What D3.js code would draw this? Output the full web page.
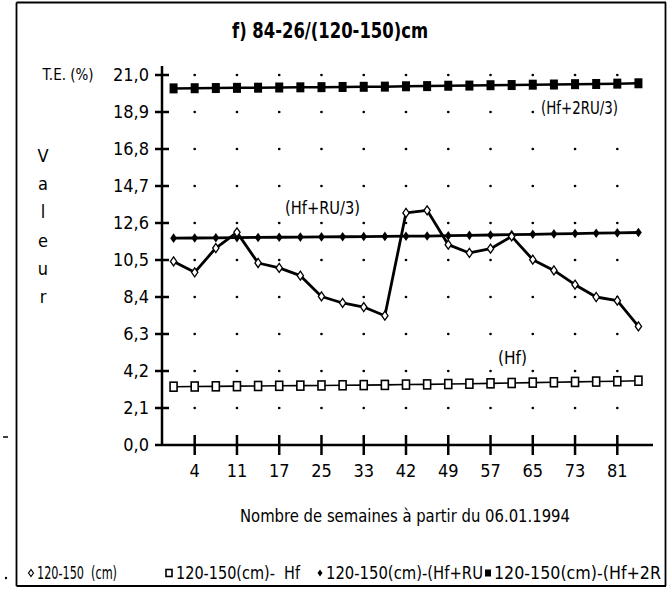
<!DOCTYPE html>
<html><head><meta charset="utf-8">
<script src="https://cdn.jsdelivr.net/npm/d3@7"></script>
<style>
html,body{margin:0;padding:0;background:#fff;}
svg{display:block;}
text{font-family:"Liberation Sans Narrow","DejaVu Sans Condensed","Arial Narrow",sans-serif;fill:#000;white-space:pre;}
</style></head>
<body><div id="chart"></div>
<script>
const title = "f) 84-26/(120-150)cm";
const categories = ["1","4","8","11","14","17","21","25","29","33","38","42","45","49","53","57","61","65","69","73","77","81","84"];
const shownTicks = ["4","11","17","25","33","42","49","57","65","73","81"];
const yTicks = [0,2.1,4.2,6.3,8.4,10.5,12.6,14.7,16.8,18.9,21.0];
const s1 = [10.42,9.80,11.18,12.07,10.33,10.05,9.61,8.43,8.06,7.83,7.34,13.17,13.32,11.37,10.90,11.14,11.84,10.52,9.91,9.10,8.40,8.19,6.73];
const sHf = [3.31,3.32,3.33,3.34,3.35,3.36,3.37,3.38,3.39,3.40,3.41,3.43,3.44,3.46,3.48,3.50,3.52,3.54,3.56,3.58,3.60,3.62,3.65];
const sHfRU = [11.74,11.75,11.76,11.77,11.78,11.79,11.80,11.81,11.82,11.83,11.84,11.85,11.86,11.88,11.90,11.92,11.94,11.96,11.98,12.00,12.02,12.04,12.06];
const sHf2RU = [20.24,20.25,20.26,20.27,20.28,20.29,20.30,20.31,20.32,20.33,20.34,20.36,20.37,20.39,20.40,20.42,20.43,20.45,20.46,20.48,20.49,20.51,20.53];
const legendLabels = ["120-150  (cm)","120-150(cm)-  Hf","120-150(cm)-(Hf+RU","120-150(cm)-(Hf+2R"];
const legendMarkX=[31,169,320,488];
const legendTextX=[37,176,326,494];
const legendTextW=[80,124,157,167];

const W=669,H=590;
const svg=d3.select("#chart").append("svg").attr("width",W).attr("height",H);

// frame
svg.append("path").attr("d","M16.5,2.5 H666 M16.5,2.5 V586 M16.5,586 H666 M665.5,2.5 V586")
  .attr("fill","none").attr("stroke","#000").attr("stroke-width",1.8);
svg.append("line").attr("x1",3).attr("x2",8).attr("y1",437).attr("y2",437).attr("stroke","#000").attr("stroke-width",1.5);
svg.append("circle").attr("cx",6).attr("cy",578).attr("r",1.2).attr("fill","#000");

const x=d3.scaleBand().domain(categories).range([163,649]);
const y=d3.scaleLinear().domain([0,21]).range([445,75]);
const cx=d=>x(d)+x.bandwidth()/2;

function fitText(sel,len){return sel.attr("textLength",len).attr("lengthAdjust","spacingAndGlyphs");}

// title
fitText(svg.append("text").attr("x",232).attr("y",38)
  .attr("font-size",21).attr("font-weight","bold").text(title),196);

// grid dots
const dotG=svg.append("g");
yTicks.filter(v=>v>0).forEach(v=>{
  shownTicks.forEach(t=>{
    dotG.append("circle").attr("cx",cx(t)).attr("cy",y(v)).attr("r",1.35).attr("fill","#000");
  });
});

// axes
const axG=svg.append("g").attr("stroke","#000").attr("stroke-width",2.5);
axG.append("line").attr("x1",162).attr("x2",162).attr("y1",66).attr("y2",446);
axG.append("line").attr("x1",162).attr("x2",653).attr("y1",445).attr("y2",445);
yTicks.forEach(v=>{
  axG.append("line").attr("x1",155).attr("x2",v===0?162:169).attr("y1",y(v)).attr("y2",y(v));
});
shownTicks.forEach(t=>{
  axG.append("line").attr("x1",cx(t)).attr("x2",cx(t)).attr("y1",435).attr("y2",455);
});
const fmt=v=>v.toFixed(1).replace(".",",");
yTicks.forEach(v=>{
  svg.append("text").attr("x",149).attr("y",y(v)+6).attr("text-anchor","end")
    .attr("font-size",18).attr("font-weight","500").text(fmt(v));
});
shownTicks.forEach(t=>{
  svg.append("text").attr("x",cx(t)).attr("y",477).attr("text-anchor","middle")
    .attr("font-size",18).text(t);
});

// axis titles
svg.append("text").attr("x",68).attr("y",80).attr("text-anchor","middle").attr("font-size",15).text("T.E. (%)");
["V","a","l","e","u","r"].forEach((c,i)=>{
  svg.append("text").attr("x",43).attr("y",162+i*28.2).attr("text-anchor","middle").attr("font-size",18).text(c);
});
fitText(svg.append("text").attr("x",240).attr("y",522).attr("font-size",18)
  .text("Nombre de semaines à partir du 06.01.1994"),330);

// series
const line=d3.line().x((d,i)=>cx(categories[i])).y(d=>y(d));
const diamond=(s)=>`M0,${-s}L${s*0.7},0L0,${s}L${-s*0.7},0Z`;
function series(data,sw,markFn){
  svg.append("path").datum(data).attr("d",line).attr("fill","none").attr("stroke","#000").attr("stroke-width",sw).attr("stroke-linejoin","round");
  const g=svg.append("g");
  data.forEach((d,i)=>markFn(g.append("g").attr("transform",`translate(${cx(categories[i])},${y(d)})`)));
}
series(sHf,1.6,g=>g.append("rect").attr("x",-3.5).attr("y",-4.5).attr("width",7).attr("height",9).attr("fill","#fff").attr("stroke","#000").attr("stroke-width",1.6));
series(sHf2RU,2.5,g=>g.append("rect").attr("x",-4).attr("y",-5).attr("width",8).attr("height",10).attr("fill","#000"));
series(sHfRU,2.8,g=>g.append("path").attr("d",diamond(4.8)).attr("fill","#000"));
series(s1,2.8,g=>g.append("path").attr("d",diamond(4.5)).attr("fill","#fff").attr("stroke","#000").attr("stroke-width",1.3));

// annotations
const lab2=svg.append("g");
lab2.append("rect").attr("x",541).attr("y",97).attr("width",80).attr("height",21).attr("fill","#fff");
fitText(lab2.append("text").attr("x",541).attr("y",114).attr("font-size",18).text("(Hf+2RU/3)"),77);
fitText(svg.append("text").attr("x",285).attr("y",214).attr("font-size",18).text("(Hf+RU/3)"),75);
fitText(svg.append("text").attr("x",498).attr("y",364).attr("font-size",18).text("(Hf)"),29);

// legend
const lg=svg.append("g");
legendLabels.forEach((t,i)=>{
  const g=lg.append("g").attr("transform",`translate(${legendMarkX[i]},573)`);
  if(i===0) g.append("path").attr("d",diamond(3.5)).attr("fill","#fff").attr("stroke","#000").attr("stroke-width",1.2);
  if(i===1) g.append("rect").attr("x",-3).attr("y",-3.5).attr("width",6).attr("height",7).attr("fill","#fff").attr("stroke","#000").attr("stroke-width",1.6);
  if(i===2) g.append("path").attr("d",diamond(3.5)).attr("fill","#000");
  if(i===3) g.append("rect").attr("x",-3).attr("y",-3.5).attr("width",6).attr("height",7).attr("fill","#000");
  fitText(lg.append("text").attr("x",legendTextX[i]).attr("y",579).attr("font-size",17).text(t),legendTextW[i]);
});
</script></body></html>
